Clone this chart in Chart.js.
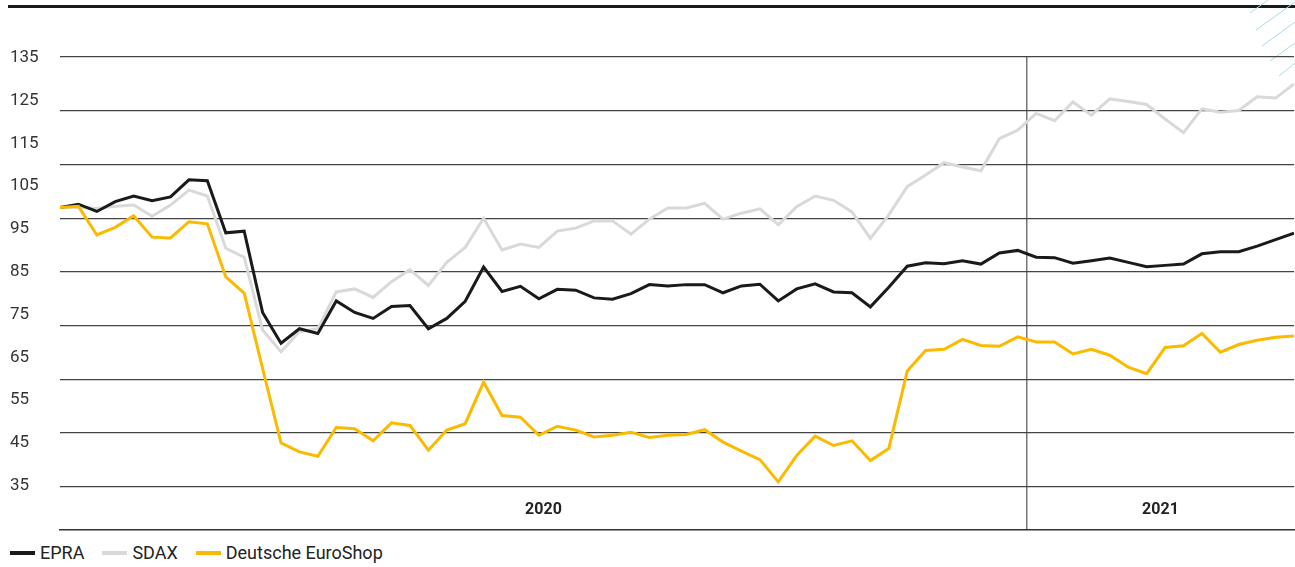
<!DOCTYPE html>
<html>
<head>
<meta charset="utf-8">
<script src="https://cdn.jsdelivr.net/npm/chart.js@4/dist/chart.umd.min.js"></script>
<style>
    html, body { margin: 0; padding: 0; background: #fff; overflow: hidden; }
    #wrap { position: relative; width: 1295px; height: 567px; font-family: Roboto, "Liberation Sans", sans-serif; }
    #chartBox { position: absolute; left: 0; top: 0; width: 1295px; height: 540px; }
    #topRule { position: absolute; left: 8px; right: 0; top: 5px; height: 3px; background: #1a1a1a; }
    #deco { position: absolute; right: 0; top: 0; }
    #legend { position: absolute; left: 10px; top: 542px; font-size: 18px; color: #222; display: flex; align-items: center; }
    #legend .item { display: flex; align-items: center; margin-right: 18px; }
    #legend .sw { display: inline-block; width: 25px; height: 4px; margin-right: 5px; }
</style>
</head>
<body>
<div id="wrap">
    <div id="topRule"></div>
    <svg id="deco" width="50" height="80">
        <g stroke="#a9dbe5" stroke-width="1">
            <line x1="5" y1="13" x2="23" y2="0"/>
            <line x1="11" y1="30" x2="50" y2="2"/>
            <line x1="17" y1="46" x2="50" y2="22"/>
            <line x1="25" y1="61" x2="50" y2="43"/>
            <line x1="34" y1="76" x2="50" y2="63"/>
        </g>
    </svg>
    <div id="chartBox"><canvas id="indexChart"></canvas></div>
    <div id="legend"></div>
</div>
<script>
// weekly index values, start 2020 = 100
const seriesNames = ['EPRA', 'SDAX', 'Deutsche EuroShop'];
const seriesColors = ['#1a1a1a', '#d9d9d9', '#fbba00'];

const epra = [
    100.0, 100.8, 99.1, 101.4, 102.7, 101.6, 102.5, 106.5, 106.3, 94.1,
    94.5, 75.5, 68.3, 71.7, 70.6, 78.2, 75.5, 74.1, 76.9, 77.1,
    71.7, 74.1, 78.1, 86.1, 80.4, 81.6, 78.7, 80.9, 80.7, 78.9,
    78.6, 79.9, 82.0, 81.7, 82.0, 82.0, 80.1, 81.7, 82.1, 78.2,
    81.0, 82.2, 80.3, 80.1, 76.8, 81.4, 86.3, 87.1, 86.9, 87.6,
    86.8, 89.4, 90.0, 88.4, 88.3, 87.0, 87.6, 88.2, 87.2, 86.2,
    86.5, 86.8, 89.2, 89.7, 89.7, 91.0, 92.5, 94.0
];
const sdax = [
    100.0, 100.1, 99.8, 100.3, 100.6, 98.0, 100.6, 104.1, 102.7, 90.5,
    88.4, 71.4, 66.3, 71.0, 71.7, 80.3, 81.0, 79.0, 82.7, 85.5,
    81.8, 87.2, 90.7, 97.5, 90.1, 91.5, 90.7, 94.5, 95.2, 96.9,
    96.9, 93.8, 97.3, 99.9, 99.9, 101.0, 97.3, 98.7, 99.7, 96.0,
    100.2, 102.7, 101.7, 99.0, 92.8, 98.3, 104.9, 107.6, 110.5, 109.5,
    108.6, 116.1, 118.1, 122.0, 120.3, 124.7, 121.6, 125.4, 124.8, 124.1,
    120.7, 117.5, 123.1, 122.3, 122.7, 125.9, 125.6, 128.9
];
const euroShop = [
    100.0, 100.3, 93.6, 95.4, 98.1, 93.1, 92.9, 96.7, 96.2, 83.8,
    80.0, 62.4, 45.0, 42.9, 41.9, 48.6, 48.3, 45.5, 49.7, 49.1,
    43.3, 48.0, 49.5, 59.2, 51.4, 51.0, 46.8, 48.9, 48.0, 46.4,
    46.8, 47.5, 46.3, 46.8, 47.0, 48.1, 45.2, 43.1, 41.1, 35.9,
    42.1, 46.6, 44.4, 45.5, 40.9, 43.7, 61.8, 66.6, 66.9, 69.2,
    67.8, 67.6, 69.8, 68.6, 68.6, 65.8, 66.9, 65.5, 62.7, 61.2,
    67.3, 67.7, 70.6, 66.2, 68.0, 69.0, 69.7, 70.0
];

const yTicks = [35, 45, 55, 65, 75, 85, 95, 105, 115, 125, 135];
const years = ['2020', '2021'];
const yearBoundary = 52.5; // week index where 2021 starts
const lastWeek = epra.length - 1;

// decorative horizontal rules (not tied to the value axis)
const ruleCount = 9;

function toPoints(values) {
    return values.map((v, i) => ({ x: i, y: v }));
}

const yearLabelsPlugin = {
    id: 'yearLabels',
    afterDraw(chart) {
        const ctx = chart.ctx;
        const x = chart.scales.x;
        const bounds = [0, yearBoundary, lastWeek];
        ctx.save();
        ctx.font = 'bold 16px Roboto, "Liberation Sans", sans-serif';
        ctx.fillStyle = '#222';
        ctx.textAlign = 'center';
        ctx.textBaseline = 'middle';
        years.forEach((year, i) => {
            const cx = (x.getPixelForValue(bounds[i]) + x.getPixelForValue(bounds[i + 1])) / 2;
            ctx.fillText(year, cx, chart.chartArea.bottom - 20);
        });
        ctx.restore();
    }
};

const ctx = document.getElementById('indexChart').getContext('2d');
const chart = new Chart(ctx, {
    type: 'line',
    data: {
        datasets: [
            { label: seriesNames[0], data: toPoints(epra), borderColor: seriesColors[0], backgroundColor: seriesColors[0], order: 1 },
            { label: seriesNames[1], data: toPoints(sdax), borderColor: seriesColors[1], backgroundColor: seriesColors[1], order: 2 },
            { label: seriesNames[2], data: toPoints(euroShop), borderColor: seriesColors[2], backgroundColor: seriesColors[2], order: 0 }
        ]
    },
    options: {
        responsive: true,
        maintainAspectRatio: false,
        animation: false,
        layout: { padding: { left: 10, right: 1, top: 57, bottom: 0 } },
        elements: {
            point: { radius: 0 },
            line: { borderWidth: 3, tension: 0, borderJoinStyle: 'miter' }
        },
        plugins: {
            legend: { display: false },
            tooltip: { enabled: false }
        },
        scales: {
            x: {
                type: 'linear',
                min: 0,
                max: lastWeek,
                ticks: { display: false },
                grid: { display: false },
                border: { display: true, color: '#333', width: 1.5 },
                afterFit: s => { s.height = 8; }
            },
            xSep: {
                type: 'linear',
                position: 'top',
                min: 0,
                max: lastWeek,
                ticks: { display: false },
                grid: { color: '#777', lineWidth: 1.5, drawTicks: false },
                border: { display: false },
                afterBuildTicks: s => { s.ticks = [{ value: yearBoundary }]; },
                afterFit: s => { s.height = 0; }
            },
            y: {
                min: 24.7,
                max: 135.2,
                ticks: {
                    color: '#333',
                    font: { family: 'Roboto, "Liberation Sans", sans-serif', size: 17 },
                    crossAlign: 'far',
                    padding: 0
                },
                grid: { display: false },
                border: { display: false },
                afterBuildTicks: s => { s.ticks = yTicks.map(v => ({ value: v })); },
                afterFit: s => { s.width = 50; }
            },
            rules: {
                position: 'right',
                reverse: true,
                min: 0,
                max: 8.8,
                ticks: { display: false },
                grid: { color: '#444', lineWidth: 1.2, drawTicks: false },
                border: { display: false },
                afterBuildTicks: s => { s.ticks = Array.from({ length: ruleCount }, (_, k) => ({ value: k })); },
                afterFit: s => { s.width = 0; }
            }
        }
    },
    plugins: [yearLabelsPlugin]
});

// legend as html below the canvas
const legend = document.getElementById('legend');
seriesNames.forEach((name, i) => {
    const item = document.createElement('span');
    item.className = 'item';
    const sw = document.createElement('span');
    sw.className = 'sw';
    sw.style.background = seriesColors[i];
    item.appendChild(sw);
    item.appendChild(document.createTextNode(name));
    legend.appendChild(item);
});
</script>
</body>
</html>
